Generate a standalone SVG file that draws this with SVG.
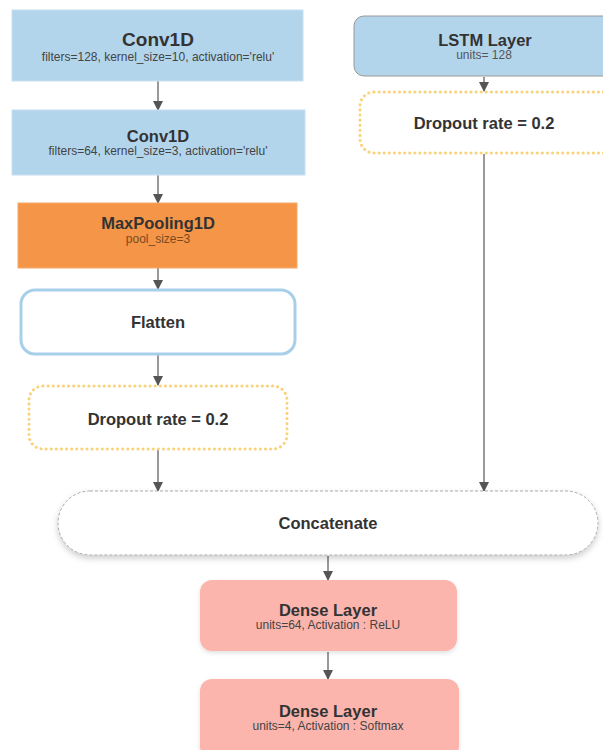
<svg xmlns="http://www.w3.org/2000/svg" width="603" height="750" viewBox="0 0 603 750">
<defs>
<marker id="arr" viewBox="0 0 10 10" refX="9" refY="5" markerWidth="10" markerHeight="10" markerUnits="userSpaceOnUse" orient="auto">
<path d="M0,0 L10,5 L0,10 z" fill="#555"/>
</marker>
<filter id="sh" x="-10%" y="-20%" width="120%" height="150%">
<feDropShadow dx="0" dy="3" stdDeviation="3" flood-color="#000" flood-opacity="0.2"/>
</filter>
<filter id="shs" x="-10%" y="-20%" width="120%" height="150%">
<feDropShadow dx="0" dy="2" stdDeviation="2" flood-color="#000" flood-opacity="0.12"/>
</filter>
</defs>
<style>
.blue{fill:#B3D5EC;stroke:#C8E0F1;stroke-width:1}
.title{font-family:"Liberation Sans",Arial,sans-serif;font-weight:bold;fill:#333;text-anchor:middle;font-size:16.5px}
.sub{font-family:"Liberation Sans",Arial,sans-serif;font-size:12px;fill:#444;text-anchor:middle}
.dot{fill:#fff;stroke:#F9D27A;stroke-width:3;stroke-dasharray:0.1 5;stroke-linecap:round}
.pink{fill:#FBB5AD;filter:url(#shs)}
.conn line{stroke:#555;stroke-width:1.2;marker-end:url(#arr)}
</style>
<rect width="603" height="750" fill="#fff"/>
<g class="conn">
<line x1="158" y1="81" x2="158" y2="110"/>
<line x1="158" y1="175" x2="158" y2="203"/>
<line x1="158" y1="268" x2="158" y2="289"/>
<line x1="158" y1="355" x2="158" y2="385"/>
<line x1="158" y1="450" x2="158" y2="491"/>
<line x1="484" y1="77" x2="484" y2="91"/>
<line x1="484" y1="154" x2="484" y2="491"/>
<line x1="328" y1="556" x2="328" y2="580"/>
<line x1="328" y1="652" x2="328" y2="679"/>
</g>
<g id="conv1">
<rect class="blue" x="12" y="10" width="291" height="71"/>
<text class="title" x="158" y="46" style="font-size:19px">Conv1D</text>
<text class="sub" x="158" y="61">filters=128, kernel_size=10, activation='relu'</text>
</g>
<g id="conv2">
<rect class="blue" x="12" y="110" width="293" height="65"/>
<text class="title" x="158" y="142">Conv1D</text>
<text class="sub" x="158" y="155">filters=64, kernel_size=3, activation='relu'</text>
</g>
<g id="maxpool">
<rect x="18" y="203" width="279" height="65" fill="#F49547" stroke="#F6A86A" stroke-width="1"/>
<text class="title" x="158" y="229">MaxPooling1D</text>
<text class="sub" x="158" y="243" style="fill:#7A4A22">pool_size=3</text>
</g>
<g id="flatten">
<rect x="21" y="290" width="274" height="64" rx="14" fill="#fff" stroke="#A8CFEA" stroke-width="3"/>
<text class="title" x="158" y="328">Flatten</text>
</g>
<g id="dropout1">
<rect class="dot" x="29" y="386" width="258" height="63" rx="14"/>
<text class="title" x="158" y="425">Dropout rate = 0.2</text>
</g>
<g id="lstm">
<rect x="354" y="16" width="260" height="60" rx="10" fill="#B3D5EC" stroke="#999" stroke-width="1"/>
<text class="title" x="485" y="46">LSTM Layer</text>
<text class="sub" x="484" y="59" style="fill:#555">units= 128</text>
</g>
<g id="dropout2">
<rect class="dot" x="360" y="92" width="260" height="61" rx="14"/>
<text class="title" x="484" y="129">Dropout rate = 0.2</text>
</g>
<g id="concat">
<rect x="58" y="491" width="540" height="64" rx="32" fill="#fff" stroke="#aaa" stroke-width="1" stroke-dasharray="3 2" filter="url(#sh)"/>
<text class="title" x="328" y="529">Concatenate</text>
</g>
<g id="dense1">
<rect class="pink" x="200" y="580" width="257" height="71" rx="12"/>
<text class="title" x="328" y="616">Dense Layer</text>
<text class="sub" x="328" y="629">units=64, Activation : ReLU</text>
</g>
<g id="dense2">
<rect class="pink" x="200" y="679" width="259" height="80" rx="12"/>
<text class="title" x="328" y="717">Dense Layer</text>
<text class="sub" x="328" y="730">units=4, Activation : Softmax</text>
</g>
</svg>
